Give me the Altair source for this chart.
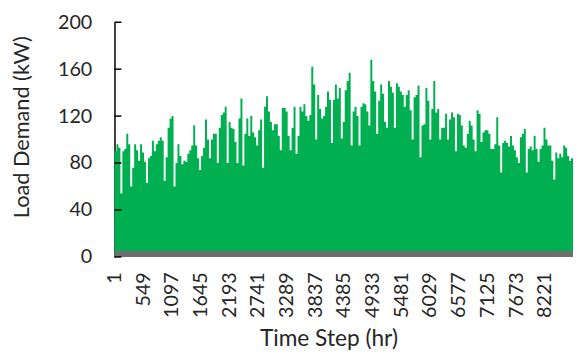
import altair as alt
import pandas as pd

# Upper envelope of hourly load (kW) left to right
load_part1 = [90, 96, 93, 54, 90, 92, 105, 96, 60, 76, 96, 91, 82, 96, 89, 81, 63, 84, 86, 99,
              90, 96, 99, 102, 99, 65, 85, 110, 118, 120, 60, 80, 96, 86, 79, 82, 81, 88, 91]
load_part2 = [95, 112, 95, 84, 74, 86, 93, 117, 100, 84, 100, 105, 105, 80, 110, 121, 123, 128, 80, 115,
              110, 109, 98, 80, 118, 135, 78, 105, 118, 103, 120, 106, 102, 95, 108, 117, 76, 128, 137, 124]
load_part3 = [115, 108, 113, 113, 103, 91, 127, 127, 124, 103, 91, 110, 128, 88, 103, 128, 124, 130, 120, 116,
              121, 162, 147, 100, 138, 126, 118, 120, 128, 141, 134, 97, 134, 147, 135, 144, 101, 115, 142, 150]
load_part4 = [157, 95, 124, 128, 120, 95, 128, 131, 130, 124, 112, 168, 150, 141, 105, 133, 147, 139, 115, 110,
              150, 145, 140, 110, 148, 145, 141, 138, 128, 138, 142, 125, 100, 136, 138, 146, 85, 112, 113, 144]
load_part5 = [133, 100, 126, 150, 123, 126, 100, 110, 110, 122, 100, 117, 123, 119, 90, 122, 121, 112, 95, 93,
              105, 116, 112, 100, 90, 125, 122, 98, 106, 108, 108, 105, 92, 92]
load_part6 = [96, 119, 95, 72, 97, 99, 97, 94, 103, 95, 91, 85, 80, 102, 105, 109, 72, 92, 94, 91,
              103, 92, 81, 92, 95, 110, 100, 95, 95, 82, 66, 89, 84, 88, 85, 95, 93, 86, 82, 84]
load_kw = load_part1 + load_part2 + load_part3 + load_part4 + load_part5 + load_part6

n_hours = 8760
x_tick_values = [1, 549, 1097, 1645, 2193, 2741, 3289, 3837, 4385, 4933,
                 5481, 6029, 6577, 7125, 7673, 8221]
y_tick_values = [0, 40, 80, 120, 160, 200]
base_band_kw = [0, 5]

step = n_hours / len(load_kw)
df = pd.DataFrame({
    "hour": [i * step for i in range(len(load_kw))] + [n_hours],
    "load": load_kw + [load_kw[-1]],
})
band = pd.DataFrame({"hour": [0], "hour2": [n_hours], "load": [base_band_kw[0]], "load2": [base_band_kw[1]]})
ticks = pd.DataFrame({"load": y_tick_values})

FONT = "Lato"
TXT = "#262626"
xscale = alt.Scale(domain=[0, n_hours], nice=False, zero=False)
yscale = alt.Scale(domain=[0, 200], nice=False)

x_axis = alt.Axis(
    values=x_tick_values, format="d", labelAngle=270, labelFont=FONT, labelFontSize=20,
    labelColor=TXT, labelPadding=15, domain=False, ticks=False, grid=False,
    title="Time Step (hr)", titleFont=FONT, titleFontSize=23, titleFontWeight="normal",
    titleColor=TXT, titleX=217, titleY=90, titleAlign="center", titleBaseline="alphabetic")
y_axis = alt.Axis(
    values=y_tick_values, format="d", labelFont=FONT, labelFontSize=20, labelColor=TXT,
    labelPadding=23, domain=True, domainColor="black", domainWidth=1.5,
    ticks=False, grid=False,
    title="Load Demand (kW)", titleFont=FONT, titleFontSize=22, titleFontWeight="normal",
    titleColor=TXT, titleAngle=270, titleX=-94, titleY=106, titleAlign="center",
    titleBaseline="middle")

area = alt.Chart(df).mark_area(interpolate="step-after", color="#00B050").encode(
    x=alt.X("hour:Q", scale=xscale, axis=x_axis),
    y=alt.Y("load:Q", scale=yscale, axis=y_axis),
)

gray = alt.Chart(band).mark_rect(color="#6e6e6e").encode(
    x=alt.X("hour:Q", scale=xscale, axis=x_axis), x2="hour2",
    y=alt.Y("load:Q", scale=yscale, axis=y_axis), y2="load2",
)

tick_marks = alt.Chart(ticks).mark_rule(color="black", strokeWidth=1.5).encode(
    y=alt.Y("load:Q", scale=yscale, axis=y_axis), x=alt.value(0), x2=alt.value(7),
)

chart = alt.layer(area, gray, tick_marks).properties(
    width=465, height=238,
    autosize=alt.AutoSizeParams(type="none"),
    padding={"left": 108, "top": 12, "right": 1, "bottom": 94},
).configure_view(stroke=None)

chart.save("out.html", embed_options={"renderer": "svg", "actions": False})
